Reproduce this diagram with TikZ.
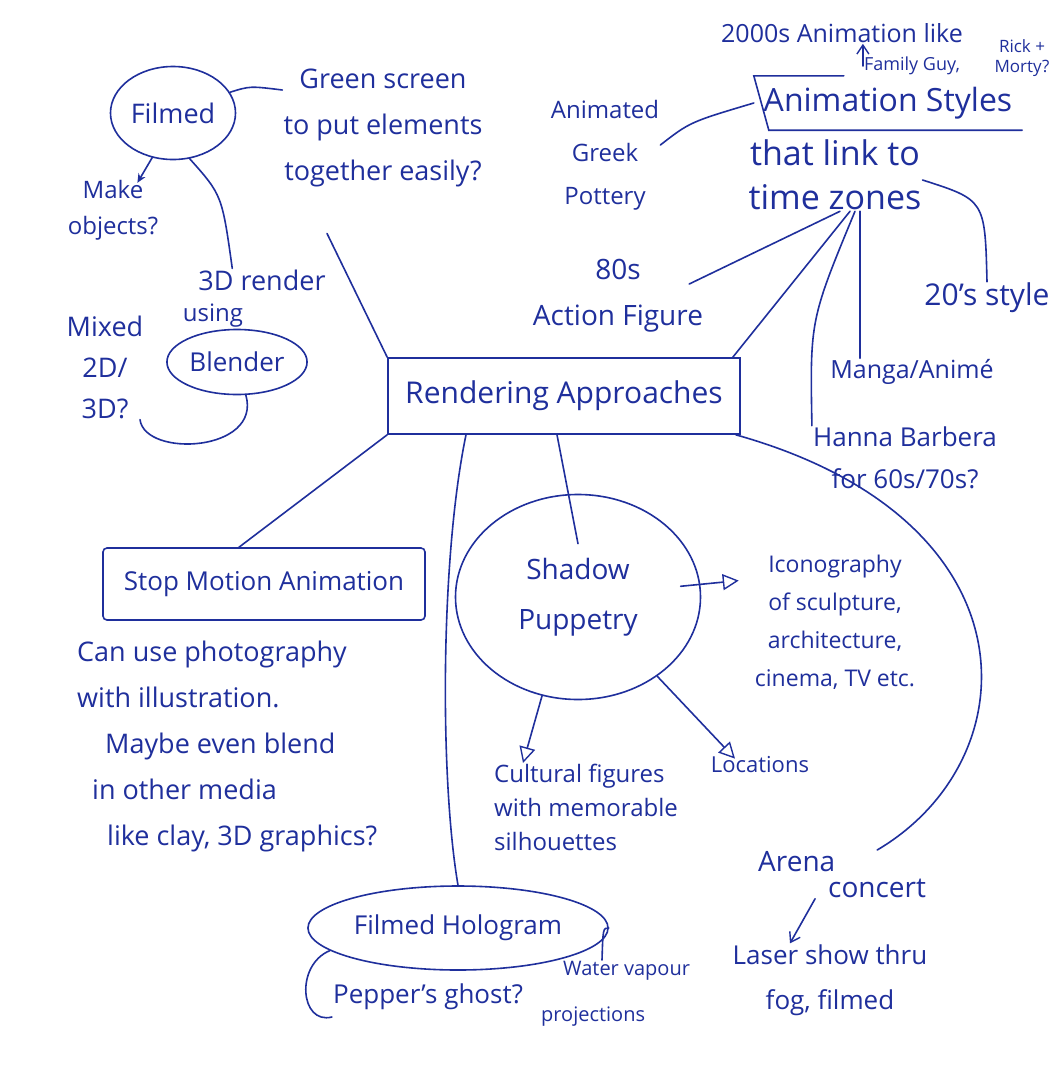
\documentclass[tikz,border=0pt]{standalone}
\usepackage{fontspec}
\setmainfont{Open Sans}
\definecolor{inkBlue}{HTML}{1F2F9C}
\usepackage{tikz}
\usetikzlibrary{calc, positioning, shapes.geometric, arrows.meta}
\newcommand{\hand}[2]{\fontsize{#1}{#2}\selectfont}
\tikzset{
  ink/.style={draw=inkBlue, line width=1.6pt, line cap=round},
  note/.style={text=inkBlue, align=center, inner sep=1pt},
  bubble/.style={ellipse, ink, text=inkBlue, align=center, inner sep=2pt},
  framebox/.style={rectangle, ink, text=inkBlue, inner sep=6pt},
  openhead/.style={-{Triangle[open, length=16pt, width=16pt, line width=1.4pt]}},
  barbhead/.style={-{Straight Barb[length=9pt, width=12pt, line width=1.4pt]}},
  smallhead/.style={-{Stealth[length=9pt, width=8pt]}},
}

\begin{document}
\begin{tikzpicture}[x=1pt, y=-1pt]
  \fill[white] (0,0) rectangle (1062,1080);
  \useasboundingbox (0,0) rectangle (1062,1080);

  % left corner
  \node[bubble, minimum width=113, minimum height=93, font=\hand{27}{32}] (filmed) at (173,113) {Filmed};
  \node[note, font=\hand{27}{46}, anchor=north] (green) at (383,68) {Green screen\\to put elements\\together easily?};
  \node[note, font=\hand{24}{36}] (makeobj) at (113,210) {Make\\objects?};
  \node[note, font=\hand{27}{32}] (render3d) at (262,280) {3D render};
  \node[note, font=\hand{24}{28}] (using) at (213,316) {using};
  \node[bubble, minimum width=125, minimum height=65, font=\hand{26}{30}] (blender) at (237,362) {Blender};
  \node[note, font=\hand{27}{41}] (mixed) at (105,367) {Mixed\\2D/\\3D?};

  \node[framebox, minimum width=352, minimum height=76, font=\hand{30}{36}] (render) at (564,396) {Rendering Approaches};

  % top right
  \node[note, font=\hand{25}{30}] (era) at (842,33) {2000s Animation like};
  \node[note, font=\hand{18}{22}] (family) at (912,66) {Family Guy,};
  \node[note, font=\hand{17}{20}] (rick) at (1022,58) {Rick +\\Morty?};
  \node[note, minimum width=268, minimum height=54, font=\hand{32}{38}] (styles) at (888,103) {Animation Styles};
  \draw[ink] ($(styles.north west)+(90,0)$) -- (styles.north west) -- ([xshift=15]styles.south west) -- (styles.south east);
  \node[note, font=\hand{24}{43}] (pottery) at (605,155) {Animated\\Greek\\Pottery};
  \node[note, font=\hand{34}{44}] (zones) at (835,175) {that link to\\time zones};
  \node[note, font=\hand{28}{46}] (eighties) at (618,296) {80s\\Action Figure};
  \node[note, font=\hand{30}{34}] (twenties) at (987,298) {20's style};
  \node[note, font=\hand{25}{30}] (manga) at (912,372) {Manga/Animé};
  \node[note, font=\hand{26}{42}] (hanna) at (905,458) {Hanna Barbera\\for 60s/70s?};

  % lower half
  \node[framebox, rounded corners=4pt, minimum width=322, minimum height=72, font=\hand{26}{30}] (stop) at (264,584) {Stop Motion Animation};
  \node[note, font=\hand{27}{46}, align=left, anchor=north west] (photo) at (76,640) {Can use photography\\with illustration.\\\hspace{28pt}Maybe even blend\\\hspace{15pt}in other media\\\hspace{30pt}like clay, 3D graphics?};
  \node[bubble, minimum width=245, minimum height=205, font=\hand{28}{50}] (shadow) at (578,597) {Shadow\\Puppetry};
  \node[note, font=\hand{23}{38}] (icon) at (835,622) {Iconography\\of sculpture,\\architecture,\\cinema, TV etc.};
  \node[note, font=\hand{24}{34}, align=left, anchor=north west] (cultural) at (493,763) {Cultural figures\\with memorable\\silhouettes};
  \node[note, font=\hand{22}{28}] (locations) at (760,765) {Locations};
  \node[bubble, minimum width=252, minimum height=84, font=\hand{26}{30}] (holo) at (458,928) {Filmed Hologram};
  \node[note, font=\hand{26}{32}] (peppers) at (428,997) {Pepper's ghost?};
  \node[note, font=\hand{20}{46}, align=left, anchor=north west] (vapour) at (540,960) {\hspace{22pt}Water vapour\\projections};
  \node[note, font=\hand{28}{26}, align=left, anchor=north west] (arena) at (757,850) {Arena\\\hspace{70pt}concert};
  \node[note, font=\hand{26}{45}] (laser) at (830,980) {Laser show thru\\fog, filmed};

  % connectors
  \draw[ink] (filmed.20) .. controls (250,86) .. ([yshift=-22]green.north west);
  \draw[ink, smallhead] (filmed.245) -- ([xshift=-22, yshift=-4]makeobj.north east);
  \draw[ink] (filmed.290) .. controls (222,195) .. ([xshift=35]render3d.north west);
  \draw[ink] ([xshift=-56, yshift=-45]green.south) -- (render.north west);
  \draw[ink] (blender.-75) .. controls (262,452) and (145,458) .. ([xshift=35]mixed.south);

  \draw[ink] (render.south west) -- ([xshift=-25]stop.north);
  \draw[ink] ([xshift=-7]render.south) -- ([yshift=-50]shadow.north);
  \draw[ink] ([xshift=-98]render.south) .. controls (440,560) and (440,780) .. (holo.north);
  \draw[ink] ([xshift=-5]render.south east) .. controls (1040,520) and (1030,760) .. ([xshift=-50]arena.north east);

  \draw[ink, barbhead] (family.west) -- (family.west |- era.south);
  \draw[ink] (styles.west) .. controls (690,122) .. ([yshift=10]pottery.east);
  \draw[ink] ([xshift=5]zones.south) -- ([xshift=-15, yshift=12]eighties.east);
  \draw[ink] ([xshift=15]zones.south) -- ([xshift=-8]render.north east);
  \draw[ink] ([xshift=25]zones.south) -- ([xshift=-52]manga.north);
  \draw[ink] ([xshift=20]zones.south) .. controls (810,320) .. (hanna.north west);
  \draw[ink] ([yshift=-5]zones.east) .. controls (985,200) .. (twenties.north);

  \draw[ink, openhead] ([xshift=-20]shadow.5) -- ([xshift=-15, yshift=-27]icon.north west);
  \draw[ink, openhead] (shadow.250) -- ([xshift=30]cultural.north west);
  \draw[ink, openhead] (shadow.-45) -- ([xshift=-25, yshift=-3]locations.north);
  \draw[ink, barbhead] ([xshift=-27]arena.south) -- ([xshift=-40]laser.north);

  \draw[ink] (holo.190) .. controls (295,965) and (300,1025) .. ([yshift=-20]peppers.west);
  \draw[ink] (holo.0) .. controls (603,928) .. ([xshift=62]vapour.north west);
\end{tikzpicture}
\end{document}
